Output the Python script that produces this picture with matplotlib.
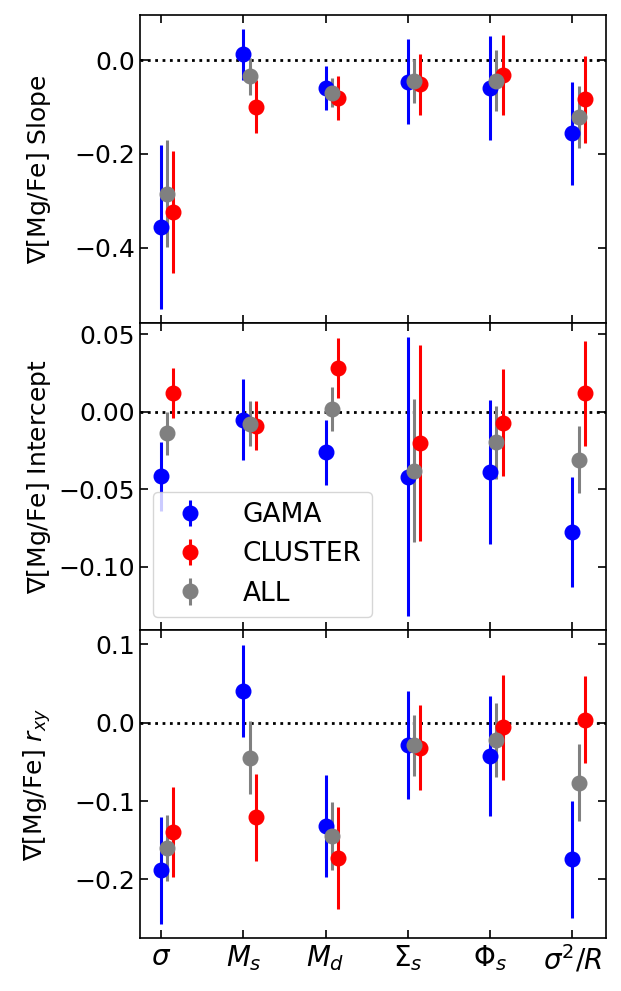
import numpy as np
import matplotlib
matplotlib.use("Agg")
import matplotlib.pyplot as plt

categories = [r"$\sigma$", r"$M_s$", r"$M_d$", r"$\Sigma_s$", r"$\Phi_s$", r"$\sigma^2/R$"]

# Slope
slope_gama = [-0.356, 0.013, -0.059, -0.046, -0.059, -0.156]
slope_gama_err = [0.175, 0.054, 0.047, 0.091, 0.111, 0.110]
slope_cluster = [-0.324, -0.099, -0.081, -0.051, -0.031, -0.083]
slope_cluster_err = [0.131, 0.056, 0.047, 0.065, 0.085, 0.093]
slope_all = [-0.285, -0.034, -0.069, -0.044, -0.044, -0.121]
slope_all_err = [0.114, 0.040, 0.031, 0.047, 0.065, 0.066]

# Intercept
icpt_gama = [-0.0414, -0.0049, -0.0259, -0.0418, -0.0386, -0.0774]
icpt_gama_err = [0.0223, 0.0264, 0.0210, 0.0900, 0.0466, 0.0355]
icpt_cluster = [0.0120, -0.0090, 0.0286, -0.0199, -0.0071, 0.0120]
icpt_cluster_err = [0.0162, 0.0158, 0.0193, 0.0633, 0.0345, 0.0341]
icpt_all = [-0.0139, -0.0075, 0.0019, -0.0380, -0.0197, -0.0307]
icpt_all_err = [0.0139, 0.0144, 0.0142, 0.0462, 0.0237, 0.0218]

# r_xy
rxy_gama = [-0.1885, 0.0404, -0.1316, -0.0288, -0.0428, -0.1745]
rxy_gama_err = [0.068, 0.0586, 0.065, 0.069, 0.0764, 0.075]
rxy_cluster = [-0.1396, -0.121, -0.1732, -0.0318, -0.0059, 0.0038]
rxy_cluster_err = [0.057, 0.055, 0.065, 0.054, 0.067, 0.0558]
rxy_all = [-0.160, -0.0446, -0.1447, -0.0288, -0.022, -0.0764]
rxy_all_err = [0.0425, 0.046, 0.0435, 0.0387, 0.047, 0.0493]

plt.rcParams['font.size'] = 18
plt.rcParams['mathtext.fontset'] = 'dejavusans'

fig = plt.figure(figsize=(6.21, 9.91), dpi=100)
left, right = 0.2254, 0.9758
bottom, top = 0.0532, 0.9852
h = (top - bottom) / 3.0
axes = [fig.add_axes([left, bottom + (2 - i) * h, right - left, h]) for i in range(3)]

x = np.arange(len(categories))
panels = [
    (slope_gama, slope_gama_err, slope_cluster, slope_cluster_err, slope_all, slope_all_err,
     r"$\nabla$[Mg/Fe] Slope", (-0.56, 0.0975), [-0.4, -0.2, 0.0]),
    (icpt_gama, icpt_gama_err, icpt_cluster, icpt_cluster_err, icpt_all, icpt_all_err,
     r"$\nabla$[Mg/Fe] Intercept", (-0.141, 0.0577), [-0.10, -0.05, 0.00, 0.05]),
    (rxy_gama, rxy_gama_err, rxy_cluster, rxy_cluster_err, rxy_all, rxy_all_err,
     r"$\nabla$[Mg/Fe] $r_{xy}$", (-0.275, 0.1175), [-0.2, -0.1, 0.0, 0.1]),
]

kw = dict(fmt='o', markersize=10.5, elinewidth=2.2, capsize=0, linestyle='none')
for i, (ax, p) in enumerate(zip(axes, panels)):
    g, ge, c, ce, a, ae, lab, yl, yt = p
    ax.axhline(0, color='k', linestyle=':', linewidth=2, zorder=1)
    ax.errorbar(x, g, yerr=ge, color='blue', label='GAMA', **kw)
    ax.errorbar(x + 0.15, c, yerr=ce, color='red', label='CLUSTER', **kw)
    ax.errorbar(x + 0.075, a, yerr=ae, color='gray', label='ALL', **kw)
    ax.set_xlim(-0.2575, 5.4075)
    ax.set_ylim(*yl)
    ax.set_yticks(yt)
    ax.set_ylabel(lab, fontsize=18)
    ax.set_xticks(x)
    ax.tick_params(direction='in', top=True, right=True, length=6, width=1.2, labelsize=18)
    for s in ax.spines.values():
        s.set_linewidth(1.2)
    if i < 2:
        ax.set_xticklabels([])
    else:
        ax.set_xticklabels(categories, fontsize=20)
    ax.yaxis.set_label_coords(-0.187, 0.5)

h1, l1 = axes[1].get_legend_handles_labels()
axes[1].legend(h1, l1, loc='lower left', fontsize=19, handletextpad=1.0,
               labelspacing=0.5)

fig.savefig("out.png", dpi=100)
